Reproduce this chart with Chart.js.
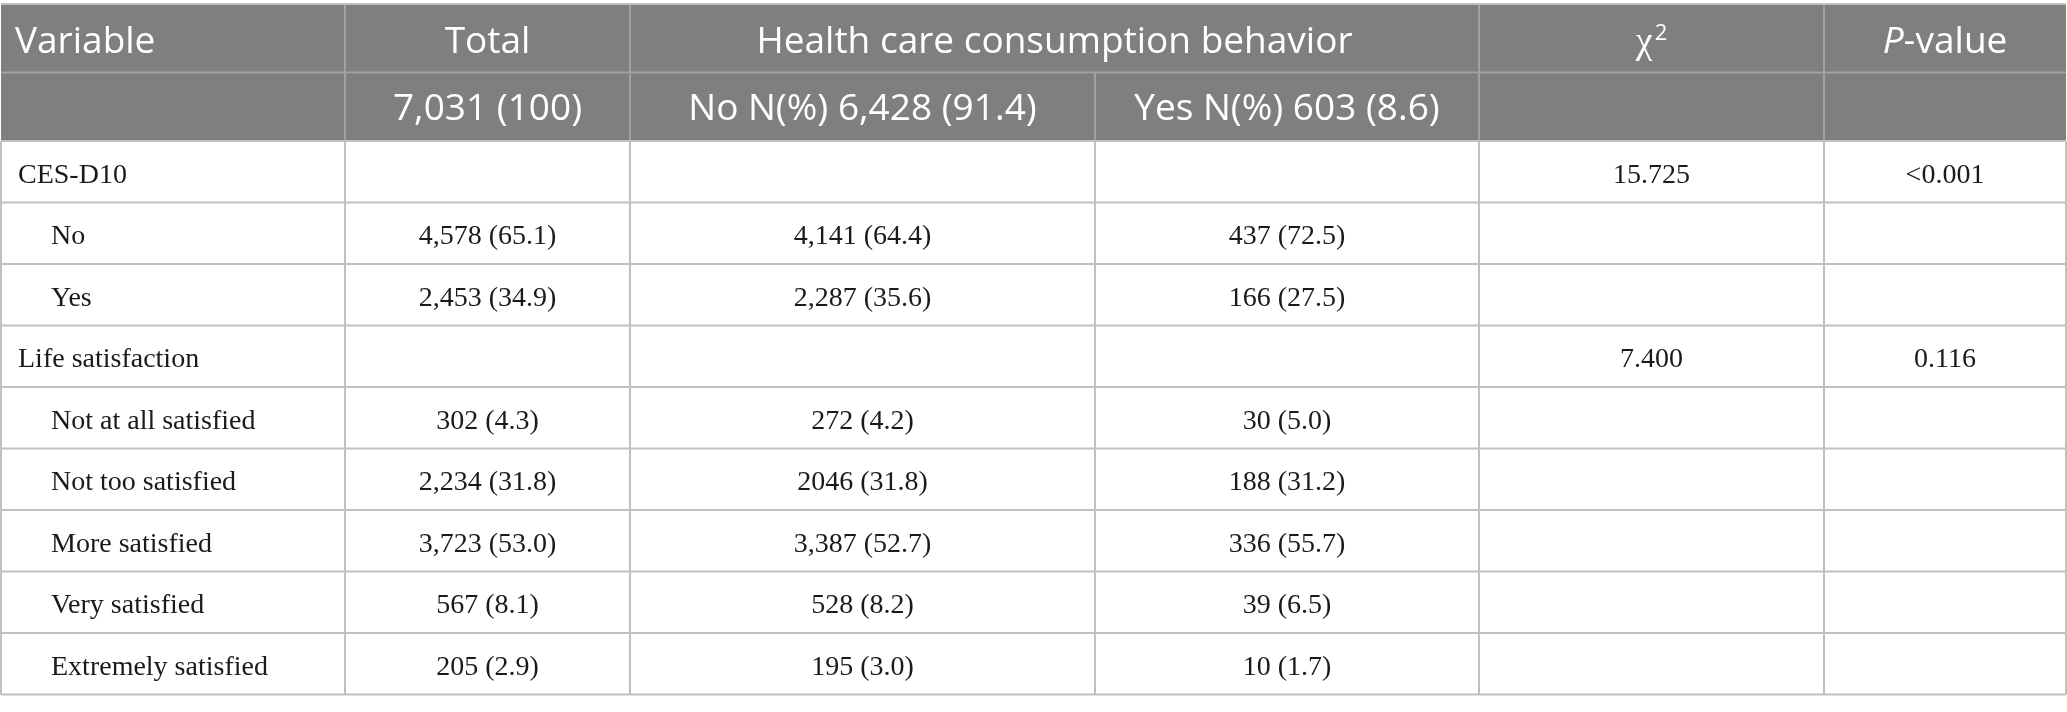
<!DOCTYPE html>
<html>
<head>
<meta charset="utf-8">
<title>Health care consumption behavior</title>
<script src="https://cdn.jsdelivr.net/npm/chart.js@4.4.0/dist/chart.umd.min.js"></script>
<style>
	html, body { margin: 0; padding: 0; background: #ffffff; }
	#wrap { position: relative; width: 2067px; height: 712px; }
</style>
</head>
<body>
<div id="wrap"><canvas id="myChart"></canvas></div>
<script>
// table content
const variables = ['CES-D10', 'No', 'Yes', 'Life satisfaction', 'Not at all satisfied', 'Not too satisfied', 'More satisfied', 'Very satisfied', 'Extremely satisfied'];
const levels = [0, 1, 1, 0, 1, 1, 1, 1, 1];
const totalCounts = ['', '4,578 (65.1)', '2,453 (34.9)', '', '302 (4.3)', '2,234 (31.8)', '3,723 (53.0)', '567 (8.1)', '205 (2.9)'];
const noCounts = ['', '4,141 (64.4)', '2,287 (35.6)', '', '272 (4.2)', '2046 (31.8)', '3,387 (52.7)', '528 (8.2)', '195 (3.0)'];
const yesCounts = ['', '437 (72.5)', '166 (27.5)', '', '30 (5.0)', '188 (31.2)', '336 (55.7)', '39 (6.5)', '10 (1.7)'];
const chiValues = ['15.725', '', '', '7.400', '', '', '', '', ''];
const pValues = ['<0.001', '', '', '0.116', '', '', '', '', ''];

const headerTop = ['Variable', 'Total', 'Health care consumption behavior', 'χ2', 'P-value'];
const headerSub = ['', '7,031 (100)', 'No N(%) 6,428 (91.4)', 'Yes N(%) 603 (8.6)', '', ''];

// layout (table units)
const colWidths = [344, 285, 465, 384, 345, 242];
const headRowH = 68.5;
const bodyRowH = 61.5;

const colEdges = [0];
colWidths.forEach(w => colEdges.push(colEdges[colEdges.length - 1] + w));
const rowEdges = [0, headRowH, headRowH * 2];
variables.forEach(() => rowEdges.push(rowEdges[rowEdges.length - 1] + bodyRowH));
const tableW = colEdges[colEdges.length - 1];
const tableH = rowEdges[rowEdges.length - 1];

const colors = {
	head_bg: '#7f807e',
	head_line: '#a2a3a1',
	body_line: '#c0c0c0',
	head_text: '#ffffff',
	body_text: '#1a1a1a',
};

const sansFont = '"Open Sans", "Noto Sans", sans-serif';
const serifFont = '"Liberation Serif", "DejaVu Serif", serif';

const columnTexts = [variables, totalCounts, noCounts, yesCounts, chiValues, pValues];

function rowMid(r) { return (rowEdges[r] + rowEdges[r + 1]) / 2; }
function colMid(c) { return (colEdges[c] + colEdges[c + 1]) / 2; }

// one invisible point per body cell, the text is drawn at its position
const datasets = columnTexts.map((texts, c) => ({
	label: 'col' + c,
	data: texts.map((t, i) => ({
		x: c === 0 ? colEdges[0] + (levels[i] ? 50 : 17) : colMid(c),
		y: rowMid(i + 2),
	})),
	pointRadius: 0,
	pointHoverRadius: 0,
}));

function drawRuns(ctx, runs, cx, y) {
	let total = 0;
	runs.forEach(r => { ctx.font = r.font; total += ctx.measureText(r.text).width + (r.gap || 0); });
	let x = cx - total / 2;
	ctx.textAlign = 'left';
	runs.forEach(r => {
		ctx.font = r.font;
		ctx.fillText(r.text, x + (r.gap || 0), y + (r.dy || 0));
		x += ctx.measureText(r.text).width + (r.gap || 0);
	});
}

const tablePlugin = {
	id: 'tableCells',
	afterDatasetsDraw(chart) {
		const ctx = chart.ctx;
		const xs = chart.scales.x, ys = chart.scales.y;
		const px = v => xs.getPixelForValue(v);
		const py = v => ys.getPixelForValue(v);
		const left = px(0), right = px(tableW);

		ctx.save();

		// header background
		ctx.fillStyle = colors.head_bg;
		ctx.fillRect(left, py(0), right - left, py(rowEdges[2]) - py(0));

		// header lines
		ctx.strokeStyle = colors.head_line;
		ctx.lineWidth = 2;
		ctx.beginPath();
		ctx.moveTo(left, py(rowEdges[1]));
		ctx.lineTo(right, py(rowEdges[1]));
		[1, 2, 4, 5].forEach(c => {
			ctx.moveTo(px(colEdges[c]), py(0));
			ctx.lineTo(px(colEdges[c]), py(rowEdges[1]));
		});
		[1, 2, 3, 4, 5].forEach(c => {
			ctx.moveTo(px(colEdges[c]), py(rowEdges[1]));
			ctx.lineTo(px(colEdges[c]), py(rowEdges[2]));
		});
		ctx.stroke();

		// body grid
		ctx.strokeStyle = colors.body_line;
		ctx.beginPath();
		ctx.moveTo(left, py(0));
		ctx.lineTo(right, py(0));
		for (let r = 2; r < rowEdges.length; r++) {
			ctx.moveTo(left, py(rowEdges[r]));
			ctx.lineTo(right, py(rowEdges[r]));
		}
		colEdges.forEach(e => {
			ctx.moveTo(px(e), py(rowEdges[2]));
			ctx.lineTo(px(e), py(tableH));
		});
		ctx.stroke();

		// header text
		ctx.fillStyle = colors.head_text;
		ctx.textBaseline = 'alphabetic';
		const hFont = '37px ' + sansFont;
		const y0 = py(rowMid(0)) + 15;
		const y1 = py(rowMid(1)) + 13;
		ctx.font = hFont;
		ctx.textAlign = 'left';
		ctx.fillText(headerTop[0], px(colEdges[0]) + 14, y0);
		ctx.textAlign = 'center';
		ctx.fillText(headerTop[1], px(colMid(1)), y0);
		ctx.fillText(headerTop[2], (px(colEdges[2]) + px(colEdges[4])) / 2, y0);
		drawRuns(ctx, [
			{ text: headerTop[3].charAt(0), font: '38px ' + serifFont },
			{ text: headerTop[3].slice(1), font: '22px ' + sansFont, dy: -13, gap: 2 },
		], px(colMid(4)), y0);
		drawRuns(ctx, [
			{ text: headerTop[4].charAt(0), font: 'italic 37px ' + sansFont },
			{ text: headerTop[4].slice(1), font: hFont },
		], px(colMid(5)), y0);
		ctx.font = hFont;
		ctx.textAlign = 'center';
		headerSub.forEach((t, c) => {
			if (t) ctx.fillText(t, px(colMid(c)), y1);
		});

		// body text at the dataset points
		ctx.fillStyle = colors.body_text;
		ctx.font = '28px ' + serifFont;
		columnTexts.forEach((texts, c) => {
			const meta = chart.getDatasetMeta(c);
			ctx.textAlign = c === 0 ? 'left' : 'center';
			meta.data.forEach((pt, i) => {
				if (texts[i]) ctx.fillText(texts[i], pt.x, pt.y + 11);
			});
		});

		ctx.restore();
	},
};

const config = {
	type: 'scatter',
	data: { datasets: datasets },
	options: {
		responsive: true,
		maintainAspectRatio: false,
		animation: false,
		events: [],
		layout: { padding: { left: 1, right: 1, top: 4, bottom: 17.5 } },
		plugins: {
			legend: { display: false },
			tooltip: { enabled: false },
		},
		scales: {
			x: { type: 'linear', display: false, min: 0, max: tableW },
			y: { type: 'linear', display: false, reverse: true, min: 0, max: tableH },
		},
	},
	plugins: [tablePlugin],
};

var myChart = new Chart(document.getElementById('myChart'), config);
</script>
</body>
</html>
